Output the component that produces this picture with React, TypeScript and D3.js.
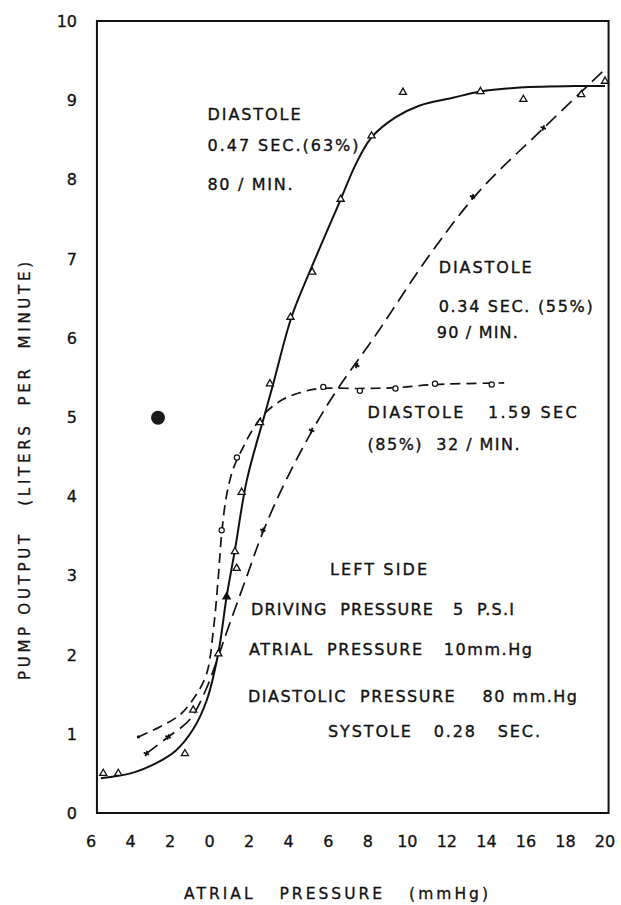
import React, { useEffect, useRef } from 'react'
import * as d3 from 'd3'

// atrial pressure ticks (negative side is labelled without sign)
const xTicks = [-6, -4, -2, 0, 2, 4, 6, 8, 10, 12, 14, 16, 18, 20]
const yTicks = [0, 1, 2, 3, 4, 5, 6, 7, 8, 9, 10]

// 80 / min, diastole 0.47 sec (63%) - solid
const rate80: [number, number][] = [
  [-5.5, 0.44], [-4.0, 0.5], [-2.7, 0.63], [-1.7, 0.79], [-0.85, 1.05], [-0.15, 1.42],
  [0.44, 2.02], [0.86, 2.73], [1.28, 3.32], [1.88, 4.2], [2.82, 5.06], [3.24, 5.44],
  [4.14, 6.26], [5.09, 6.85], [6.6, 7.73], [7.39, 8.19], [8.19, 8.53], [9.38, 8.78],
  [10.6, 8.93], [12.3, 9.03], [13.7, 9.11], [15.7, 9.16], [18.7, 9.18], [20.0, 9.18]
]
const rate80Points: [number, number][] = [
  [-5.38, 0.5], [-4.62, 0.5], [-1.25, 0.75], [-0.83, 1.3], [0.44, 2.01], [0.86, 2.73],
  [1.37, 3.09], [1.28, 3.3], [1.62, 4.05], [2.55, 4.93], [3.05, 5.42], [4.09, 6.26],
  [5.19, 6.83], [6.63, 7.75], [8.19, 8.55], [9.78, 9.1], [13.7, 9.11], [15.87, 9.01],
  [18.8, 9.07], [20.0, 9.24]
]

// 90 / min, diastole 0.34 sec (55%) - long dash
const rate90: [number, number][] = [
  [-3.2, 0.75], [-2.1, 0.96], [-1.0, 1.18], [-0.2, 1.55], [0.4, 1.95], [1.0, 2.38],
  [1.9, 3.0], [2.7, 3.55], [4.0, 4.27], [6.0, 5.17], [8.5, 6.07],
  [11.0, 7.0], [13.6, 7.84], [16.9, 8.65], [20.0, 9.39]
]
const rate90Points: [number, number][] = [
  [-3.2, 0.75], [-2.1, 0.96], [2.69, 3.57], [5.16, 4.83], [7.44, 5.65], [13.3, 7.78], [16.88, 8.65]
]

// 32 / min, diastole 1.59 sec (85%) - short dash
const rate32: [number, number][] = [
  [-3.6, 0.96], [-2.5, 1.09], [-1.5, 1.24], [-0.74, 1.47], [-0.15, 1.76], [0.19, 2.31],
  [0.44, 2.98], [0.6, 3.5], [0.85, 4.0], [1.2, 4.35], [1.7, 4.62], [2.2, 4.85],
  [2.8, 5.05], [3.7, 5.22], [4.6, 5.31], [5.6, 5.36], [7.6, 5.36], [9.4, 5.37],
  [11.4, 5.41], [14.9, 5.43]
]
const rate32Points: [number, number][] = [
  [0.61, 3.57], [1.38, 4.49], [5.75, 5.38], [7.6, 5.33], [9.4, 5.36], [11.4, 5.42], [14.27, 5.41]
]

// ink blot on the scan
const blots: [number, number][] = [[-2.61, 4.99]]

const notes = [
  { t: 'DIASTOLE', x: 207.5, y: 120, w: 93 },
  { t: '0.47 SEC.(63%)', x: 207.5, y: 151, w: 151 },
  { t: '80 / MIN.', x: 207.5, y: 190, w: 85 },
  { t: 'DIASTOLE', x: 438.7, y: 273, w: 93 },
  { t: '0.34 SEC. (55%)', x: 438.7, y: 312, w: 154 },
  { t: '90 / MIN.', x: 436.8, y: 338, w: 81 },
  { t: 'DIASTOLE   1.59 SEC', x: 367.6, y: 418, w: 209 },
  { t: '(85%)  32 / MIN.', x: 367.6, y: 450, w: 152 },
  { t: 'LEFT SIDE', x: 330, y: 575, w: 97 },
  { t: 'DRIVING  PRESSURE   5  P.S.I', x: 251, y: 615, w: 263 },
  { t: 'ATRIAL  PRESSURE   10mm.Hg', x: 249, y: 655, w: 283 },
  { t: 'DIASTOLIC  PRESSURE    80 mm.Hg', x: 248, y: 702, w: 329 },
  { t: 'SYSTOLE   0.28   SEC.', x: 328, y: 737, w: 212 }
]

export default function App() {
  const ref = useRef<SVGSVGElement | null>(null)
  const width = 621
  const height = 905

  useEffect(() => {
    const svg = d3.select(ref.current)
    svg.selectAll('*').remove()
    const font = "'DejaVu Sans', 'Liberation Sans', sans-serif"
    const ink = '#111'

    const x = d3.scaleLinear().domain([-6, 20]).range([91, 605])
    const y = d3.scaleLinear().domain([0, 10]).range([813, 21])

    svg.append('rect').attr('width', width).attr('height', height).attr('fill', '#fff')

    // frame
    svg.append('rect')
      .attr('x', x(-5.7)).attr('y', y(10))
      .attr('width', x(20.18) - x(-5.7)).attr('height', y(0) - y(10))
      .attr('fill', 'none').attr('stroke', ink).attr('stroke-width', 2)

    // tick labels
    svg.append('g').selectAll('text').data(xTicks).enter().append('text')
      .attr('x', d => x(d)).attr('y', 847)
      .attr('text-anchor', 'middle')
      .style('font-family', font).style('font-size', '16px')
      .attr('fill', ink).attr('stroke', ink).attr('stroke-width', 0.3)
      .text(d => String(Math.abs(d)))

    svg.append('g').selectAll('text').data(yTicks).enter().append('text')
      .attr('x', 77).attr('y', d => y(d) + 6)
      .attr('text-anchor', 'end')
      .style('font-family', font).style('font-size', '16px')
      .attr('fill', ink).attr('stroke', ink).attr('stroke-width', 0.3)
      .text(d => String(d))

    // axis titles
    svg.append('text')
      .attr('x', 184).attr('y', 899)
      .attr('textLength', 304).attr('lengthAdjust', 'spacing')
      .style('font-family', font).style('font-size', '15.5px')
      .attr('fill', ink).attr('stroke', ink).attr('stroke-width', 0.3)
      .style('white-space', 'pre')
      .text('ATRIAL   PRESSURE   (mmHg)')

    svg.append('text')
      .attr('transform', 'translate(30,680) rotate(-90)')
      .attr('textLength', 418).attr('lengthAdjust', 'spacing')
      .style('font-family', font).style('font-size', '15px')
      .attr('fill', ink).attr('stroke', ink).attr('stroke-width', 0.3)
      .style('white-space', 'pre')
      .text('PUMP OUTPUT   (LITERS  PER  MINUTE)')

    const line = d3.line<[number, number]>()
      .x(d => x(d[0])).y(d => y(d[1]))
      .curve(d3.curveCatmullRom.alpha(0.5))

    svg.append('path').datum(rate80).attr('d', line)
      .attr('fill', 'none').attr('stroke', ink).attr('stroke-width', 2)
    svg.append('path').datum(rate90).attr('d', line)
      .attr('fill', 'none').attr('stroke', ink).attr('stroke-width', 1.7)
      .attr('stroke-dasharray', '14,7')
    svg.append('path').datum(rate32).attr('d', line)
      .attr('fill', 'none').attr('stroke', ink).attr('stroke-width', 1.7)
      .attr('stroke-dasharray', '10,6')

    const tri = d3.symbol().type(d3.symbolTriangle).size(22)
    svg.append('g').selectAll('path').data(rate80Points).enter().append('path')
      .attr('d', tri)
      .attr('transform', d => 'translate(' + x(d[0]) + ',' + y(d[1]) + ')')
      .attr('fill', (d, i) => (i === 5 ? ink : '#fff')).attr('stroke', ink).attr('stroke-width', 1.3)

    const cross = d3.symbol().type(d3.symbolCross).size(18)
    svg.append('g').selectAll('path').data(rate90Points).enter().append('path')
      .attr('d', cross)
      .attr('transform', d => 'translate(' + x(d[0]) + ',' + y(d[1]) + ') rotate(20)')
      .attr('fill', ink)

    svg.append('g').selectAll('circle').data(rate32Points).enter().append('circle')
      .attr('cx', d => x(d[0])).attr('cy', d => y(d[1])).attr('r', 2.6)
      .attr('fill', '#fff').attr('stroke', ink).attr('stroke-width', 1.2)
    svg.append('circle')
      .attr('cx', x(rate32[0][0])).attr('cy', y(rate32[0][1])).attr('r', 1.6).attr('fill', ink)

    svg.append('g').selectAll('circle').data(blots).enter().append('circle')
      .attr('cx', d => x(d[0])).attr('cy', d => y(d[1])).attr('r', 7).attr('fill', '#1a1a1a')

    // annotations
    svg.append('g').selectAll('text').data(notes).enter().append('text')
      .attr('x', d => d.x).attr('y', d => d.y)
      .attr('textLength', d => d.w).attr('lengthAdjust', 'spacing')
      .style('font-family', font).style('font-size', '16px')
      .attr('fill', ink).attr('stroke', ink).attr('stroke-width', 0.35)
      .style('white-space', 'pre')
      .text(d => d.t)
  }, [])

  return (
    <svg ref={ref} width={width} height={height}
      style={{ position: 'absolute', left: 0, top: 0, background: '#fff' }} />
  )
}
